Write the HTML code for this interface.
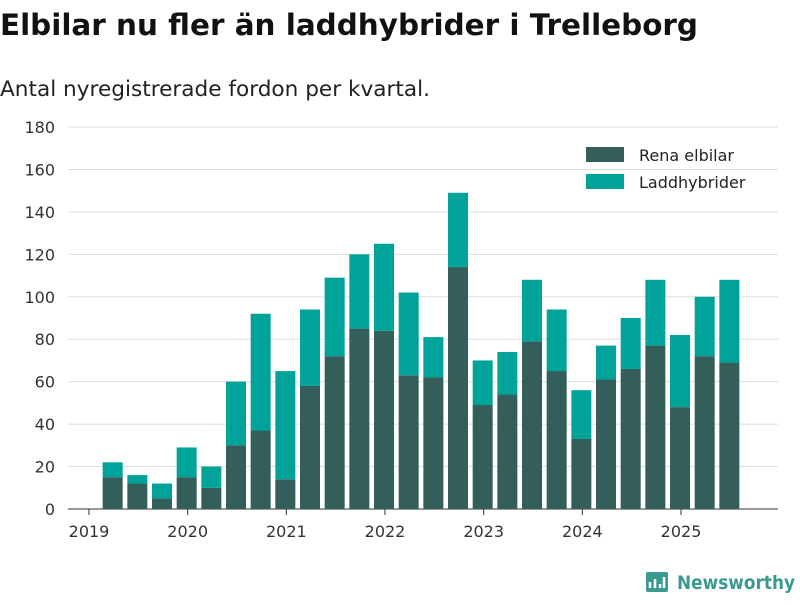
<!DOCTYPE html>
<html><head><meta charset="utf-8"><style>
body{margin:0;background:#fff;font-family:"Liberation Sans","DejaVu Sans",sans-serif}
</style></head><body>
<svg width="800" height="600" xmlns="http://www.w3.org/2000/svg" id="chart" font-family="'DejaVu Sans','Liberation Sans',sans-serif">
<text x="0" y="35" font-size="29" font-weight="bold" fill="#111" textLength="698" lengthAdjust="spacingAndGlyphs">Elbilar nu fler än laddhybrider i Trelleborg</text>
<text x="0" y="96" font-size="21" fill="#222" textLength="430" lengthAdjust="spacingAndGlyphs">Antal nyregistrerade fordon per kvartal.</text>
<g id="grid"></g><g id="bars"></g><g id="axes"></g>
<g>
<rect x="586" y="147" width="38" height="15" fill="#335e5a"/>
<text x="639" y="161" font-size="16" fill="#222">Rena elbilar</text>
<rect x="586" y="174" width="38" height="15" fill="#00a39a"/>
<text x="639" y="188" font-size="16" fill="#222">Laddhybrider</text>
</g>
<g>
<rect x="646" y="572" width="22" height="20" rx="2" fill="#3a9a8f"/>
<path d="M650 588v-6M655 588v-9M660 588v-4M664 588v-11" stroke="#fff" stroke-width="2.5"/>
<text x="677" y="589" font-size="19" font-weight="bold" fill="#3a9a8f" textLength="118" lengthAdjust="spacingAndGlyphs">Newsworthy</text>
</g>
</svg>
<script>
const years=[2019,2019,2019,2020,2020,2020,2020,2021,2021,2021,2021,2022,2022,2022,2022,2023,2023,2023,2023,2024,2024,2024,2024,2025,2025,2025];
const quarters=[2,3,4,1,2,3,4,1,2,3,4,1,2,3,4,1,2,3,4,1,2,3,4,1,2,3];
const elbilar=[15,12,5,15,10,30,37,14,58,72,85,84,63,62,114,49,54,79,65,33,61,66,77,48,72,69];
const laddhybrider=[7,4,7,14,10,30,55,51,36,37,35,41,39,19,35,21,20,29,29,23,16,24,31,34,28,39];
const yTicks=[0,20,40,60,80,100,120,140,160,180];
const xTicks=[2019,2020,2021,2022,2023,2024,2025];
const NS="http://www.w3.org/2000/svg";
const y=v=>509-v*(382/180);
const x=t=>89+(t-2019)*98.67;
function mk(tag,attrs,parent){const e=document.createElementNS(NS,tag);for(const k in attrs)e.setAttribute(k,attrs[k]);document.getElementById(parent).appendChild(e);return e;}
yTicks.forEach(v=>{
 const l=mk('line',{x1:68,x2:778,y1:y(v),y2:y(v),stroke:v===0?'#333':'#ddd','stroke-width':1},'grid');
 
 
 const t=mk('text',{x:55,y:y(v)+6,'font-size':16,fill:'#333','text-anchor':'end'},'axes');
 t.textContent=v;
 
 
});
xTicks.forEach(v=>{
 const l=mk('line',{x1:x(v),x2:x(v),y1:509,y2:515,stroke:'#333'},'axes');
 
 
 const t=mk('text',{x:x(v),y:537,'font-size':16,fill:'#333','text-anchor':'middle'},'axes');
 t.textContent=v;
 
 
});
years.forEach((yr,i)=>{
 const cx=x(yr+(quarters[i]-1)/4)-1,w=20;
 const a=mk('rect',{x:cx-w/2,y:y(elbilar[i]),width:w,height:509-y(elbilar[i]),fill:'#335e5a'},'bars');
 
 
 const tot=elbilar[i]+laddhybrider[i];
 const b=mk('rect',{x:cx-w/2,y:y(tot),width:w,height:y(elbilar[i])-y(tot),fill:'#00a39a'},'bars');
 
 
});
</script>
</body></html>
